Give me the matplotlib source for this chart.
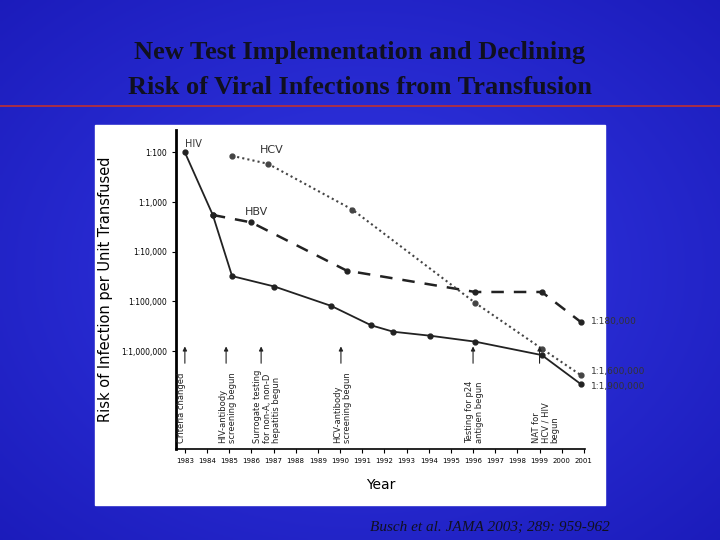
import numpy as np
import matplotlib
matplotlib.use("Agg")
import matplotlib.pyplot as plt
from matplotlib.patches import Rectangle

years = list(range(1983, 2002))
ytick_vals = [1e-2, 1e-3, 1e-4, 1e-5, 1e-6]
ytick_labels = ["1:100", "1:1,000", "1:10,000", "1:100,000", "1:1,000,000"]

hiv_x = [1983, 1984.26, 1985.13, 1987.04, 1989.6, 1991.4, 1992.4, 1994.06, 1996.1, 1999.1, 2000.85]
hiv_log = [-2.0, -3.26, -4.49, -4.70, -5.09, -5.48, -5.61, -5.69, -5.81, -6.08, -6.66]
hbv_x = [1984.26, 1986.0, 1990.3, 1996.1, 1999.1, 2000.85]
hbv_log = [-3.26, -3.41, -4.38, -4.81, -4.81, -5.41]
hcv_x = [1985.13, 1986.75, 1990.55, 1996.1, 1999.1, 2000.85]
hcv_log = [-2.07, -2.23, -3.15, -5.03, -5.95, -6.48]

events_x = [1983, 1984.86, 1986.44, 1990.04, 1996.0, 1999.0]
events_text = ["Criteria changed", "HIV-antibody\nscreening begun",
               "Surrogate testing\nfor non-A, non-D\nhepatitis begun",
               "HCV-antibody\nscreening begun", "Testing for p24\nantigen begun",
               "NAT for\nHCV / HIV\nbegun"]

fig = plt.figure(figsize=(7.2, 5.4), dpi=100)
bg = fig.add_axes([0, 0, 1, 1])
yy, xx = np.mgrid[0:1:200j, 0:1:200j]
r = np.sqrt((xx - 0.5) ** 2 + (yy - 0.5) ** 2)
g = np.clip(1 - r * 1.3, 0, 1)
img = np.zeros((200, 200, 3))
img[..., 0] = 0.10 + 0.10 * g
img[..., 1] = 0.10 + 0.12 * g
img[..., 2] = 0.72 + 0.18 * g
bg.imshow(img, extent=[0, 1, 0, 1], aspect="auto")
bg.axis("off")
bg.set_xlim(0, 1); bg.set_ylim(0, 1)
bg.plot([0, 1], [1 - 106 / 540] * 2, color="#c03030", lw=1.2)
bg.add_patch(Rectangle((95 / 720, 1 - 505 / 540), 510 / 720, 380 / 540, color="white"))
fig.text(0.5, 1 - 52 / 540, "New Test Implementation and Declining", ha="center", va="center",
         fontsize=19, fontweight="bold", family="Liberation Serif", color="#101020")
fig.text(0.5, 1 - 88 / 540, "Risk of Viral Infections from Transfusion", ha="center", va="center",
         fontsize=19, fontweight="bold", family="Liberation Serif", color="#101020")
fig.text(490 / 720, 1 - 527 / 540, "Busch et al. JAMA 2003; 289: 959-962", ha="center", va="center",
         fontsize=11, style="italic", family="Liberation Serif", color="#101020")

ax = fig.add_axes([176 / 720, 1 - 449 / 540, 409 / 720, 319 / 540])
ax.set_facecolor("white")
ax.set_yscale("log")
ax.set_xlim(1982.6, 2001.05)
ax.set_ylim(10 ** -7.97, 10 ** -1.55)
for s in ["top", "right"]:
    ax.spines[s].set_visible(False)
ax.spines["left"].set_linewidth(2)
ax.spines["bottom"].set_linewidth(1.2)

p = lambda v: [10 ** a for a in v]
ax.plot(hiv_x, p(hiv_log), color="#222", lw=1.3, marker="o", ms=3.5)
ax.plot(hbv_x, p(hbv_log), color="#222", lw=1.8, ls=(0, (5, 4)), marker="o", ms=3.5)
ax.plot(hcv_x, p(hcv_log), color="#444", lw=1.5, ls=(0, (1, 1.5)), marker="o", ms=3.5)

ax.text(1983.0, 10 ** -1.9, "HIV", fontsize=7, color="#333")
ax.text(1986.4, 10 ** -2.02, "HCV", fontsize=8, color="#333")
ax.text(1985.7, 10 ** -3.27, "HBV", fontsize=8, color="#333")
ax.text(2001.3, 10 ** -5.41, "1:180,000", fontsize=6.5, color="#333", va="center", clip_on=False)
ax.text(2001.3, 10 ** -6.42, "1:1,600,000", fontsize=6.5, color="#333", va="center", clip_on=False)
ax.text(2001.3, 10 ** -6.72, "1:1,900,000", fontsize=6.5, color="#333", va="center", clip_on=False)

for i, (x, t) in enumerate(zip(events_x, events_text)):
    ax.annotate("", xy=(x, 10 ** -5.85), xytext=(x, 10 ** -6.3),
                arrowprops=dict(arrowstyle="-|>", lw=0.8, color="#222", mutation_scale=6))
    ax.text(x - 0.35, 10 ** -7.85, t, rotation=90, fontsize=6, va="bottom", ha="left",
            color="#222", linespacing=1.05)

ax.set_xticks(years)
ax.set_xticklabels([str(y) for y in years], fontsize=5)
ax.set_yticks(ytick_vals)
ax.set_yticklabels(ytick_labels, fontsize=5.5)
ax.minorticks_off()
ax.tick_params(length=3, width=0.8)
ax.set_xlabel("Year", fontsize=10, labelpad=10)
ax.set_ylabel("Risk of Infection per Unit Transfused", fontsize=10.5, labelpad=6)

fig.savefig("out.png", dpi=100)
